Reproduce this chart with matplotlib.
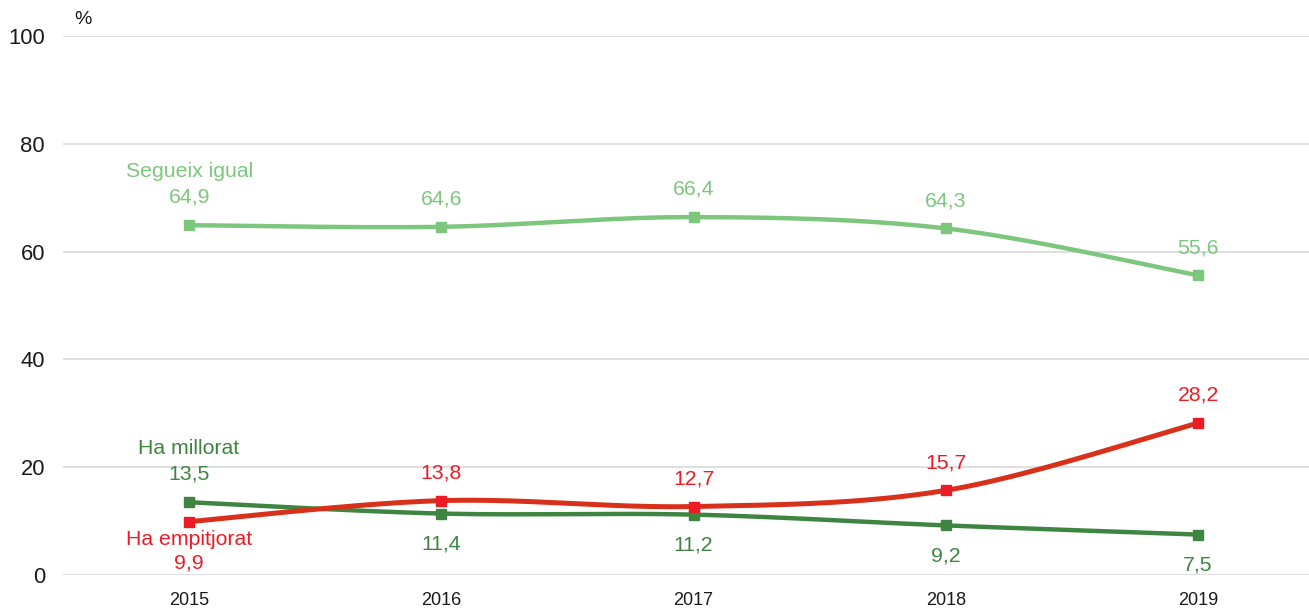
import numpy as np
import matplotlib
matplotlib.use("Agg")
import matplotlib.pyplot as plt

years = ["2015", "2016", "2017", "2018", "2019"]
igual = [64.9, 64.6, 66.4, 64.3, 55.6]
millorat = [13.5, 11.4, 11.2, 9.2, 7.5]
empitjorat = [9.9, 13.8, 12.7, 15.7, 28.2]
yticks = [0, 20, 40, 60, 80, 100]

plt.rcParams['font.family'] = ['Liberation Sans', 'DejaVu Sans']


def smooth(x, y, n=40, t=1/6):
    # Bezier smoothing similar to spreadsheet "smoothed line"
    x = np.asarray(x, float); y = np.asarray(y, float)
    px, py = [], []
    m = len(x)
    for i in range(m - 1):
        x0, y0 = (x[i-1], y[i-1]) if i > 0 else (x[i], y[i])
        x3, y3 = (x[i+2], y[i+2]) if i + 2 < m else (x[i+1], y[i+1])
        x1, y1 = x[i], y[i]
        x2, y2 = x[i+1], y[i+1]
        c1x = x1 + (x2 - x0) * t; c1y = y1 + (y2 - y0) * t
        c2x = x2 - (x3 - x1) * t; c2y = y2 - (y3 - y1) * t
        s = np.linspace(0, 1, n)
        bx = (1-s)**3*x1 + 3*(1-s)**2*s*c1x + 3*(1-s)*s**2*c2x + s**3*x2
        by = (1-s)**3*y1 + 3*(1-s)**2*s*c1y + 3*(1-s)*s**2*c2y + s**3*y2
        px.extend(bx); py.extend(by)
    return np.array(px), np.array(py)


fig = plt.figure(figsize=(13.09, 6.08), dpi=100)
ax = fig.add_axes([63/1309, 33/608, 1 - 63/1309, (575-36)/608])
xs = np.arange(len(years))

c_light = "#7DC67E"
c_dark = "#3E8541"
c_red_line = "#D9301C"
c_red = "#ED1C24"

sx, sy = smooth(xs, igual)
ax.plot(sx, sy, color=c_light, lw=3.2, zorder=3, solid_capstyle='round')
ax.plot(xs, igual, 's', color=c_light, ms=7, zorder=4)

sx, sy = smooth(xs, millorat)
ax.plot(sx, sy, color=c_dark, lw=3.2, zorder=3, solid_capstyle='round')
ax.plot(xs, millorat, 's', color=c_dark, ms=7, zorder=4)

sx, sy = smooth(xs, empitjorat)
ax.plot(sx, sy, color=c_red_line, lw=3.6, zorder=3.5, solid_capstyle='round')
ax.plot(xs, empitjorat, 's', color=c_red, ms=7, zorder=4.5)

fs = 15.3


def fmt(v):
    return f"{v:.1f}".replace(".", ",")


for i, v in enumerate(igual):
    ax.annotate(fmt(v), (i, v), xytext=(0, 20), textcoords='offset points',
                ha='center', va='center', color=c_light, fontsize=fs)
ax.annotate("Segueix igual", (0, igual[0]), xytext=(0, 39), textcoords='offset points',
            ha='center', va='center', color=c_light, fontsize=fs)

for i, v in enumerate(millorat):
    dy = 20 if i == 0 else -22
    ax.annotate(fmt(v), (i, v), xytext=(0, dy), textcoords='offset points',
                ha='center', va='center', color=c_dark, fontsize=fs)
ax.annotate("Ha millorat", (0, millorat[0]), xytext=(0, 39), textcoords='offset points',
            ha='center', va='center', color=c_dark, fontsize=fs)

for i, v in enumerate(empitjorat):
    dy = -30 if i == 0 else 20
    ax.annotate(fmt(v), (i, v), xytext=(0, dy), textcoords='offset points',
                ha='center', va='center', color=c_red, fontsize=fs)
ax.annotate("Ha empitjorat", (0, empitjorat[0]), xytext=(0, -13), textcoords='offset points',
            ha='center', va='center', color=c_red, fontsize=fs)

ax.set_xlim(-0.5, -0.5 + 1246/252.25)
ax.set_ylim(0, 100)
ax.set_yticks(yticks)
ax.set_xticks(xs)
ax.set_xticklabels(years)
ax.tick_params(axis='y', length=0, pad=13, labelsize=15.8, labelcolor='#1a1a1a')
ax.tick_params(axis='x', length=0, pad=12, labelsize=13, labelcolor='#1a1a1a')
ax.grid(axis='y', color='#d9d9d9', lw=1.2)
ax.set_axisbelow(True)
for s in ax.spines.values():
    s.set_visible(False)

fig.text(83/1309, 1 - 20/608, "%", ha='center', va='center', fontsize=14, color='#1a1a1a')

fig.savefig("out.png", dpi=100)
